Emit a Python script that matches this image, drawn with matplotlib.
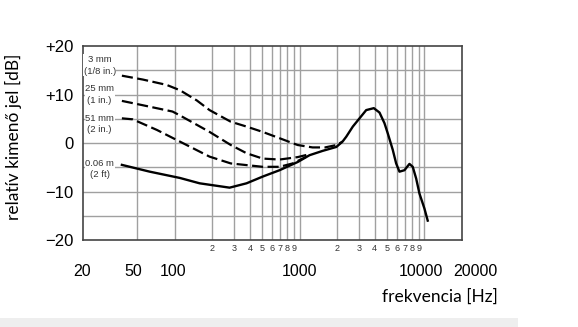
import matplotlib
matplotlib.use("Agg")
import matplotlib.pyplot as plt
from matplotlib.patches import Rectangle

# frekvencia [Hz] / relatív kimenő jel [dB], odčítané z grafu
f_3mm = [37.7, 55.5, 86, 110, 150, 190, 281, 376, 506, 691, 964, 1270, 1600, 1977, 2208]
db_3mm = [13.9, 13.1, 12.0, 10.9, 8.8, 6.8, 4.4, 3.4, 2.3, 1.0, -0.4, -0.9, -0.9, -0.4, 0.3]

f_25mm = [37.7, 55.5, 96, 110, 190, 281, 376, 506, 691, 964, 1202]
db_25mm = [8.7, 7.8, 6.5, 5.7, 2.3, -0.4, -2.1, -3.2, -3.4, -2.9, -2.3]

f_51mm = [37.7, 46, 72, 108, 190, 281, 506, 691, 880, 1138]
db_51mm = [5.1, 4.9, 2.7, 0.4, -2.8, -4.2, -4.9, -4.9, -4.2, -2.8]

f_2ft = [37.7, 63, 110, 158, 190, 275, 376, 508, 691, 967, 1202, 1535, 1970, 2208,
         2363, 2669, 3020, 3417, 3931, 4365, 4786, 5086, 5577, 5936, 6310, 6918,
         7586, 8063, 8584, 9120, 10000, 10627]
db_2ft = [-4.5, -5.9, -7.2, -8.3, -8.6, -9.2, -8.3, -6.9, -5.6, -3.9, -2.5, -1.6, -0.8, 0.3,
          1.3, 3.4, 5.1, 6.8, 7.2, 6.3, 4.1, 2.0, -1.4, -4.2, -5.9, -5.6,
          -4.3, -4.9, -7.3, -10.4, -13.5, -16.0]

labels = ["3 mm\n(1/8 in.)", "25 mm\n(1 in.)", "51 mm\n(2 in.)", "0.06 m\n(2 ft)"]
label_y = [0.902, 0.750, 0.598, 0.366]

grid_f = [50, 100, 200, 300, 400, 500, 600, 700, 800, 900, 1000,
          2000, 3000, 4000, 5000, 6000, 7000, 8000, 9000, 10000]
grid_db = [-15, -10, -5, 0, 5, 10, 15]

major_f = [20, 50, 100, 1000, 10000, 20000]
major_dx = [-5, -4, -2, 0, -3, 13]   # posun popiskov ako v originali
minor_f = [200, 300, 400, 500, 600, 700, 800, 900,
           2000, 3000, 4000, 5000, 6000, 7000, 8000, 9000]
minor_lab = ["2", "3", "4", "5", "6", "7", "8", "9"] * 2
y_ticks = [20, 10, 0, -10, -20]
y_lab = ["+20", "+10", "0", "\u221210", "\u221220"]

fig = plt.figure(figsize=(5.78, 3.27), dpi=100)
ax = fig.add_axes([0.1436, 0.266, 0.6557, 0.593])
ax.set_xscale("log")
ax.set_xlim(18.4, 19800)
ax.set_ylim(-20, 20)

for g in grid_f:
    ax.axvline(g, color="#a0a0a0", lw=1.0, zorder=1)
for g in grid_db:
    ax.axhline(g, color="#a0a0a0", lw=1.0, zorder=1)

dash = (5, 2)
ax.plot(f_3mm, db_3mm, color="black", lw=1.6, dashes=dash, zorder=3)
ax.plot(f_25mm, db_25mm, color="black", lw=1.6, dashes=dash, zorder=3)
ax.plot(f_51mm, db_51mm, color="black", lw=1.6, dashes=dash, zorder=3)
ax.plot(f_2ft, db_2ft, color="black", lw=1.7, zorder=4)

for t, y in zip(labels, label_y):
    ax.text(0.044, y, t, transform=ax.transAxes, ha="center", va="center",
            fontsize=6.8, family="Liberation Sans", color="#333333", linespacing=1.4,
            bbox=dict(facecolor="white", edgecolor="none", pad=0.5), zorder=5)

ax.set_xticks(major_f)
ax.set_xticklabels([""] * len(major_f))
for v, dx in zip(major_f, major_dx):
    ax.annotate(str(v), xy=(v, 0), xycoords=("data", "axes fraction"),
                xytext=(dx, -31), textcoords="offset pixels", ha="center", va="center",
                family="Liberation Sans", fontsize=11.5, annotation_clip=False)
ax.set_xticks(minor_f, minor=True)
ax.set_xticklabels(minor_lab, minor=True, family="Liberation Sans", fontsize=6.5,
                   color="#333333")
ax.tick_params(axis="x", which="both", length=0)
ax.tick_params(axis="x", which="minor", pad=3)
ax.set_yticks(y_ticks)
ax.set_yticklabels(y_lab, family="Liberation Sans", fontsize=12)
ax.tick_params(axis="y", length=0, pad=7)

for s in ax.spines.values():
    s.set_color("#444444")
    s.set_linewidth(1.2)

fig.text(0.024, 0.583, "relatív kimenő jel [dB]", rotation=90, ha="center", va="center",
         fontsize=12.5, family="Lato")
fig.text(0.661, 0.092, "frekvencia [Hz]", ha="left", va="center", fontsize=12.5, family="Lato")

fig.patches.append(Rectangle((0, 0), 0.896, 0.028, transform=fig.transFigure,
                             facecolor="#eeeeee", edgecolor="none"))

fig.savefig("out.png", dpi=100)
